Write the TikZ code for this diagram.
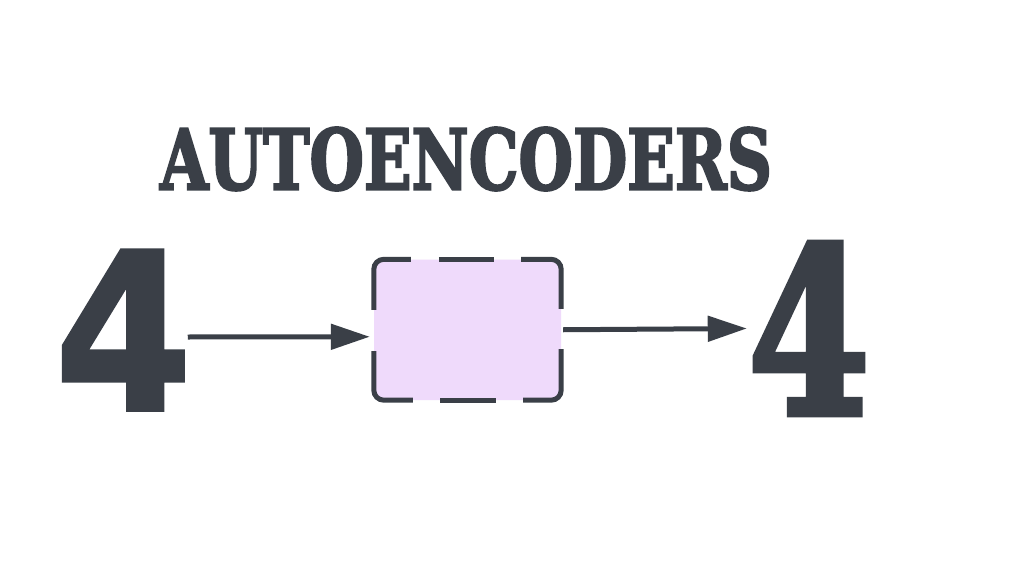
\documentclass[tikz,border=0pt]{standalone}
\usepackage{fontspec}
\usepackage{graphicx}
\usetikzlibrary{arrows.meta,calc}
\newfontfamily\titlefont[BoldFeatures={FakeBold=3}]{DejaVu Serif}
\newfontfamily\insfont[BoldFeatures={FakeBold=1.5}]{DejaVu Sans}
\definecolor{ink}{RGB}{58,63,71}
\definecolor{lav}{RGB}{239,218,251}
\begin{document}
\begin{tikzpicture}[x=1pt,y=-1pt,
  txt/.style={inner sep=0pt, text=ink},
  latent/.style={fill=lav, draw=none, rounded corners=10pt, inner sep=0pt, minimum width=187pt, minimum height=140.5pt},
  dashpiece/.style={draw=ink, line width=5pt, rounded corners=10pt},
  arr/.style={draw=ink, line width=5pt, -{Triangle[length=39pt,width=25pt]}}]
\useasboundingbox[fill=white] (0,0) rectangle (1024,580);
\node[txt] (title) at (466,159) {\resizebox{612pt}{62pt}{\titlefont\bfseries AUTOENCODERS}};
\node[txt] (in) at (123.5,330) {\resizebox{138pt}{160pt}{\insfont\bfseries 4}};
\node[txt] (out) at (809,328.5) {\resizebox{122pt}{171pt}{\titlefont\bfseries 4}};
\node[latent] (box) at (467.5,329.75) {};
% dashed border
\draw[dashpiece] ($(box.north west)+(0,50.5)$) -- (box.north west) -- ($(box.north west)+(37,0)$);
\draw[dashpiece] ($(box.north west)+(65,0)$) -- ($(box.north west)+(120,0)$);
\draw[dashpiece] ($(box.north east)+(-40,0)$) -- (box.north east) -- ($(box.north east)+(0,49.5)$);
\draw[dashpiece] ($(box.south east)+(0,-51)$) -- (box.south east) -- ($(box.south east)+(-38,0)$);
\draw[dashpiece] ($(box.south west)+(122,0)$) -- ($(box.south west)+(66,0)$);
\draw[dashpiece] ($(box.south west)+(39,0)$) -- (box.south west) -- ($(box.south west)+(0,-49)$);
% arrows
\draw[arr] ([xshift=-5pt,yshift=-7pt]in.east) -- ([xshift=-4pt,yshift=-7pt]box.west);
\draw[arr] ([xshift=2pt]box.east) -- ([xshift=-1pt]out.west);
\end{tikzpicture}
\end{document}
